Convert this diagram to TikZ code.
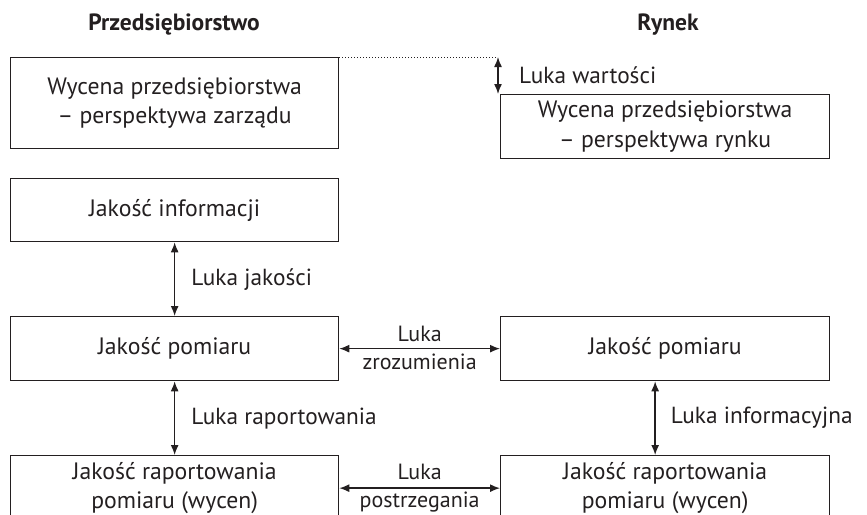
\documentclass[tikz,border=0pt]{standalone}
\usepackage{fontspec}
\setmainfont{PT Sans}
\usetikzlibrary{arrows.meta}
\definecolor{ink}{HTML}{231F20}
\tikzset {
  box style/.style = {
    draw=ink,
    line width=1.3pt,
    text=ink,
    align=center,
    inner sep=0pt,
    anchor=north west,
    font=\fontsize{23.7}{29.5}\selectfont
  },
  gap style/.style = {
    {Latex[length=10pt,width=8pt]}-{Latex[length=10pt,width=8pt]},
    line width=1.4pt,
    draw=ink
  },
  gap label/.style = {
    text=ink,
    inner sep=1pt,
    font=\fontsize{23.3}{28}\selectfont
  },
  narrow label/.style = {
    gap label,
    font=\fontsize{22}{26}\selectfont
  },
  head/.style = {
    text=ink,
    font=\fontsize{23.5}{28}\bfseries
  }
}

\begin{document}
\begin{tikzpicture}[x=1pt, y=-1pt]
\clip (0,0) rectangle (867,514);

% --- Column titles ---
\node[head] (tytL) at (174,25) {Przedsiębiorstwo};
\node[head] (tytR) at (668,25) {Rynek};

% --- Boxes, left column ---
\node[box style, minimum width=328pt, minimum height=91pt] (wycL) at (10,57)
  {Wycena przedsiębiorstwa\\– perspektywa zarządu};
\node[box style, minimum width=328pt, minimum height=63pt] (info) at (10,178)
  {Jakość informacji};
\node[box style, minimum width=328pt, minimum height=64pt] (pomL) at (10,316)
  {Jakość pomiaru};
\node[box style, minimum width=328pt, minimum height=65pt] (rapL) at (10,455)
  {Jakość raportowania\\pomiaru (wycen)};

% --- Boxes, right column ---
\node[box style, minimum width=329pt, minimum height=64pt] (wycR) at (500,94)
  {Wycena przedsiębiorstwa\\– perspektywa rynku};
\node[box style, minimum width=329pt, minimum height=64pt] (pomR) at (500,316)
  {Jakość pomiaru};
\node[box style, minimum width=329pt, minimum height=65pt] (rapR) at (500,455)
  {Jakość raportowania\\pomiaru (wycen)};

% --- Value gap ---
\coordinate (kon) at (498,57);
\draw[ink, line width=1pt, dotted] (wycL.north east) -- (kon);
\draw[gap style] (kon) -- (kon |- wycR.north);
\node[gap label, anchor=west] (lWart) at (518,75) {Luka wartości};

% --- Vertical gaps ---
\draw[gap style] (info.south) -- (pomL.north)
  node[gap label, midway, anchor=west, xshift=15pt] (lJak) {Luka jakości};
\draw[gap style] (pomL.south) -- (rapL.north)
  node[gap label, midway, anchor=west, xshift=15pt] (lRap) {Luka raportowania};
\draw[gap style] ([xshift=-10pt]pomR.south) -- ([xshift=-10pt]rapR.north)
  node[gap label, midway, anchor=west, xshift=14pt] (lInf) {Luka informacyjna};

% --- Horizontal gaps ---
\draw[gap style] (pomL.east) -- (pomR.west)
  node[narrow label, midway, above=5pt] (lZro1) {Luka}
  node[narrow label, midway, below=3.5pt] (lZro2) {zrozumienia};
\draw[gap style] (rapL.east) -- (rapR.west)
  node[narrow label, midway, above=7pt] (lPos1) {Luka}
  node[narrow label, midway, below=2pt] (lPos2) {postrzegania};

\end{tikzpicture}
\end{document}
